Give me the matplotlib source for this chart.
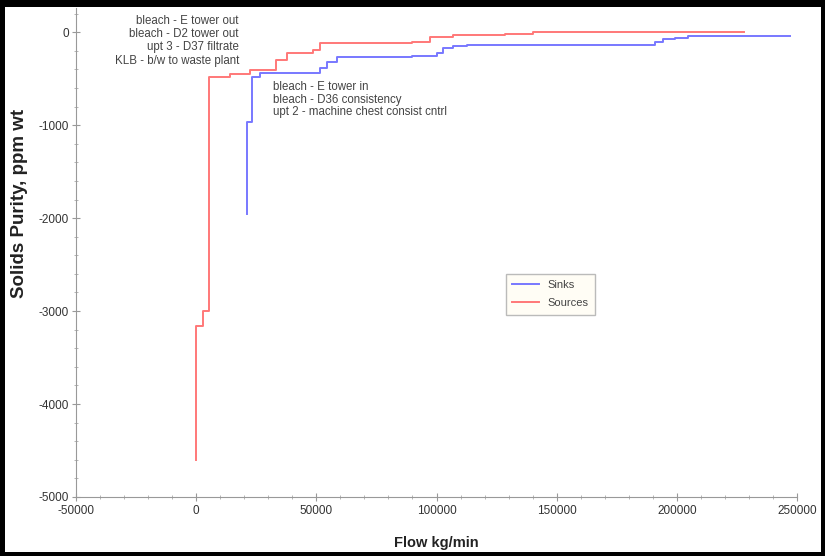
import matplotlib
matplotlib.use("Agg")
import matplotlib.pyplot as plt
from matplotlib.patches import Rectangle
from matplotlib.ticker import MultipleLocator

plt.rcParams['font.family'] = ['Liberation Sans', 'DejaVu Sans']
plt.rcParams['axes.unicode_minus'] = False

# data (composite curves, step shaped)
sinks_flow = [21100, 21100, 23200, 26600, 51600, 54400, 58500, 90000, 100300,
              102800, 106900, 112700, 190900, 194300, 199300, 204700, 230000, 247000]
sinks_purity = [-1960, -964, -480, -437, -390, -319, -263, -253, -222,
                -175, -150, -134, -104, -75, -59, -43, -38, -38]

sources_flow = [0, 0, 2900, 5400, 14100, 22500, 33300, 37900, 48700, 51600,
                78000, 90000, 97300, 106900, 128500, 140200, 228000]
sources_purity = [-4600, -3160, -3000, -480, -455, -408, -301, -229, -193, -121,
                  -115, -105, -50, -32, -21, 5, 5]

source_names = ["bleach - E tower out", "bleach - D2 tower out",
                "upt 3 - D37 filtrate", "KLB - b/w to waste plant"]
sink_names = ["bleach - E tower in", "bleach - D36 consistency",
              "upt 2 - machine chest consist cntrl"]

fig = plt.figure(figsize=(8.25, 5.56), dpi=100)
ax = fig.add_axes([76 / 825, 1 - 497 / 556, 721 / 825, 489 / 556])

ax.plot(sinks_flow, sinks_purity, drawstyle='steps-post', color='#7878ff', lw=1.4, label='Sinks')
ax.plot(sources_flow, sources_purity, drawstyle='steps-post', color='#ff7878', lw=1.4, label='Sources')

ax.set_xlim(-50000, 250000)
ax.set_ylim(-5000, 260)
ax.xaxis.set_major_locator(MultipleLocator(50000))
ax.xaxis.set_minor_locator(MultipleLocator(10000))
ax.yaxis.set_major_locator(MultipleLocator(1000))
ax.yaxis.set_minor_locator(MultipleLocator(200))

for s in ['top', 'right']:
    ax.spines[s].set_visible(False)
for s in ['left', 'bottom']:
    ax.spines[s].set_color('#999999')
ax.tick_params(which='major', direction='inout', length=6, color='#999999',
               labelsize=8.5, labelcolor='#333333')
ax.tick_params(which='minor', direction='inout', length=3, color='#aaaaaa')
ax.tick_params(axis='x', pad=3)
ax.tick_params(axis='y', pad=2)

ax.set_xlabel("Flow kg/min", fontsize=10.5, fontweight='bold', color='#222222')
ax.set_ylabel("Solids Purity, ppm wt", fontsize=13.5, fontweight='bold', color='#222222')
ax.xaxis.set_label_coords(0.5, -0.08)
ax.yaxis.set_label_coords(-0.066, 0.6)

ax.text(0.226, 0.985, "\n".join(source_names), transform=ax.transAxes,
        ha='right', va='top', fontsize=8.3, color='#444444', linespacing=1.12)
ax.text(0.273, 0.85, "\n".join(sink_names), transform=ax.transAxes,
        ha='left', va='top', fontsize=8.3, color='#444444', linespacing=1.02)

leg = ax.legend(loc='upper left', bbox_to_anchor=(0.588, 0.468), fontsize=8,
                frameon=True, fancybox=False, handlelength=2.4, borderpad=0.6,
                labelspacing=0.7)
leg.get_frame().set_facecolor('#fffdf3')
leg.get_frame().set_edgecolor('#aaaaaa')
for t in leg.get_texts():
    t.set_color('#444444')

# black frame round the picture
for (x0, y0, w, h) in [(0, 0, 5 / 825, 1), (1 - 4 / 825, 0, 4 / 825, 1),
                       (0, 1 - 7 / 556, 1, 7 / 556), (0, 0, 1, 4 / 556)]:
    fig.add_artist(Rectangle((x0, y0), w, h, transform=fig.transFigure,
                             color='black', lw=0))

fig.savefig("out.png", dpi=100)
